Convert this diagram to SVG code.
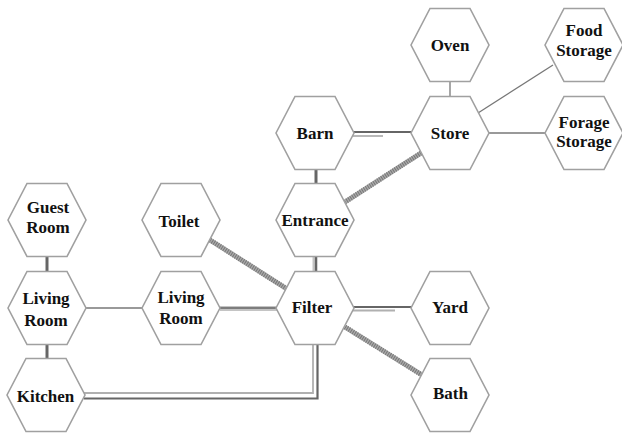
<svg xmlns="http://www.w3.org/2000/svg" width="622" height="434" viewBox="0 0 622 434">
<defs>
<style>
.hex{fill:#fff;stroke:#a0a0a0;stroke-width:1.6}
.lbl{font-family:"Liberation Serif","Times New Roman",serif;font-weight:bold;font-size:17px;fill:#111;text-anchor:middle;dominant-baseline:central}
.thin{stroke:#777;stroke-width:1.3;fill:none}
.dark{stroke:#666;stroke-width:2.2;fill:none}
.light{stroke:#b0b0b0;stroke-width:1.8;fill:none}
.band{stroke:#c4c4c4;stroke-width:5;fill:none}
.hbase{stroke:#aaa;stroke-width:5;fill:none}
.hstripe{stroke:#777;stroke-width:5;stroke-dasharray:1 1.3;fill:none}
</style>
<polygon id="hexshape" points="-39,0 -20,-36.5 20,-36.5 39,0 20,36.5 -20,36.5"/>
</defs>
<rect width="622" height="434" fill="#fff"/>
<g id="connectors">
<line class="thin" x1="450" y1="81" x2="450" y2="97"/>
<line class="thin" x1="478" y1="113" x2="553" y2="65"/>
<line class="thin" x1="488" y1="133" x2="545" y2="133"/>
<line class="thin" x1="86" y1="308" x2="143" y2="308"/>
<line class="dark" x1="353" y1="132" x2="411" y2="132"/>
<line class="light" x1="353" y1="136" x2="383" y2="136"/>
<line class="dark" x1="316" y1="169" x2="316" y2="185" style="stroke-width:3"/>
<line class="band" x1="315" y1="256" x2="315" y2="272"/>
<line class="dark" x1="316" y1="256" x2="316" y2="272"/>
<line class="dark" x1="47" y1="256" x2="47" y2="272" style="stroke-width:3"/>
<line class="dark" x1="47" y1="344" x2="47" y2="359" style="stroke-width:3"/>
<line class="band" x1="220" y1="308.5" x2="277" y2="308.5"/>
<line class="dark" x1="220" y1="308" x2="277" y2="308" style="stroke-width:1.6"/>
<line class="dark" x1="353" y1="307" x2="412" y2="307"/>
<line class="light" x1="353" y1="310.5" x2="395" y2="310.5"/>
<path class="light" d="M84 393 H313 V344"/>
<path class="dark" d="M84 398.5 H317.5 V344"/>
<line class="hbase" x1="421" y1="153" x2="345" y2="202"/>
<line class="hstripe" x1="421" y1="153" x2="345" y2="202"/>
<line class="hbase" x1="210" y1="240" x2="287" y2="289"/>
<line class="hstripe" x1="210" y1="240" x2="287" y2="289"/>
<line class="hbase" x1="345" y1="327" x2="422" y2="375"/>
<line class="hstripe" x1="345" y1="327" x2="422" y2="375"/>
</g>
<g id="oven"><use href="#hexshape" class="hex" x="450" y="45"/><text class="lbl" x="450" y="45">Oven</text></g>
<g id="food-storage"><use href="#hexshape" class="hex" x="584" y="45"/><text class="lbl" x="584" y="30">Food</text><text class="lbl" x="584" y="50">Storage</text></g>
<g id="barn"><use href="#hexshape" class="hex" x="315" y="133"/><text class="lbl" x="315" y="133">Barn</text></g>
<g id="store"><use href="#hexshape" class="hex" x="450" y="133"/><text class="lbl" x="450" y="133">Store</text></g>
<g id="forage-storage"><use href="#hexshape" class="hex" x="584" y="133"/><text class="lbl" x="584" y="122">Forage</text><text class="lbl" x="584" y="141">Storage</text></g>
<g id="guest-room"><use href="#hexshape" class="hex" x="47" y="220"/><text class="lbl" x="48" y="207">Guest</text><text class="lbl" x="48" y="227">Room</text></g>
<g id="toilet"><use href="#hexshape" class="hex" x="181" y="220"/><text class="lbl" x="179" y="221">Toilet</text></g>
<g id="entrance"><use href="#hexshape" class="hex" x="315" y="220"/><text class="lbl" x="315" y="220">Entrance</text></g>
<g id="living-room-1"><use href="#hexshape" class="hex" x="47" y="308"/><text class="lbl" x="46" y="298">Living</text><text class="lbl" x="46" y="320">Room</text></g>
<g id="living-room-2"><use href="#hexshape" class="hex" x="181" y="308"/><text class="lbl" x="181" y="297">Living</text><text class="lbl" x="181" y="318">Room</text></g>
<g id="filter"><use href="#hexshape" class="hex" x="315" y="308"/><text class="lbl" x="312" y="307">Filter</text></g>
<g id="yard"><use href="#hexshape" class="hex" x="450" y="308"/><text class="lbl" x="450" y="307">Yard</text></g>
<g id="kitchen"><use href="#hexshape" class="hex" x="46" y="395"/><text class="lbl" x="45.5" y="396">Kitchen</text></g>
<g id="bath"><use href="#hexshape" class="hex" x="450" y="395"/><text class="lbl" x="450.5" y="393">Bath</text></g>
</svg>
